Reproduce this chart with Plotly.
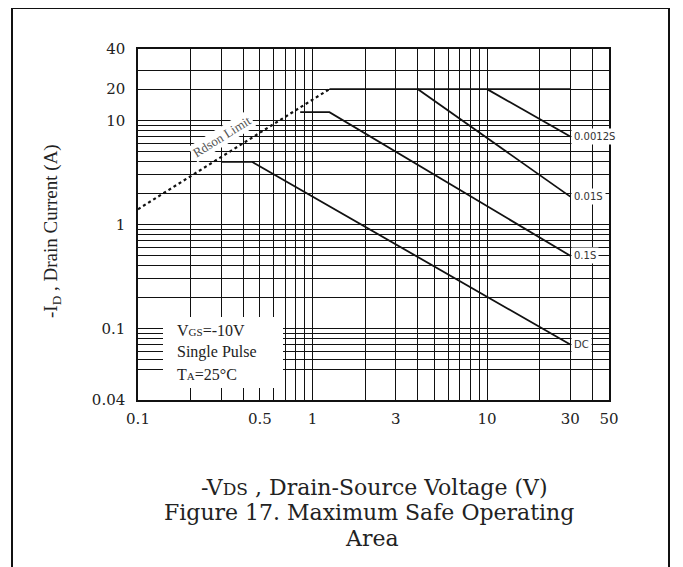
import math
import plotly.graph_objects as go

# ---------------- data ----------------
# axis extents of the printed chart (log axes)
X_EDGES = [0.1, 50]
Y_EDGES = [0.0205, 48.6]

# grid lines
X_GRID = [0.2, 0.3, 0.4, 0.5, 0.6, 0.7, 0.8, 0.9, 1, 2, 3, 4, 5, 6, 7, 8, 9, 10, 20, 30, 40]
Y_GRID = [0.04, 0.05, 0.06, 0.07, 0.08, 0.09, 0.1, 0.2, 0.3, 0.4, 0.5, 0.6, 0.7, 0.8, 0.9,
          1, 2, 3, 4, 5, 6, 7, 8, 9, 10, 20, 30]

# tick labels
X_TICKS = [0.1, 0.5, 1, 3, 10, 30, 50]
X_TICK_TEXT = ["0.1", "0.5", "1", "3", "10", "30", "50"]
Y_TICKS = [0.1, 1, 10, 20]
Y_TICK_TEXT = ["0.1", "1", "10", "20"]
Y_EDGE_LABELS = ["0.04", "40"]

# curves
rds_x = [0.1, 1.25]
rds_y = [1.4, 20]
idmax_x = [1.25, 30]
idmax_y = [20, 20]
p0012_x = [10, 30]
p0012_y = [20, 7]
p01_x = [4, 30]
p01_y = [20, 1.85]
p1_x = [0.85, 1.25, 30]
p1_y = [12, 12, 0.5]
dc_x = [0.3, 0.45, 30]
dc_y = [4, 4, 0.07]

curve_labels = ["0.0012S", "0.01S", "0.1S", "DC"]
curve_label_y = [p0012_y[-1], p01_y[-1], p1_y[-1], dc_y[-1]]
curve_label_x = 30

# ---------------- figure ----------------
W, H = 683, 567
OFF = 8  # page body margin of the browser
# plot area in page pixels: left 138, right 609, top 49, bottom 400
L = 138 - OFF
T = 49 - OFF
R = W - (609 - OFF)
B = H - (400 - OFF)

fig = go.Figure()
line_style = dict(color="#111111", width=1.8)
for xs, ys in [(idmax_x, idmax_y), (p0012_x, p0012_y), (p01_x, p01_y), (p1_x, p1_y), (dc_x, dc_y)]:
    fig.add_trace(go.Scatter(x=xs, y=ys, mode="lines", line=line_style, showlegend=False, hoverinfo="skip"))
fig.add_trace(go.Scatter(x=rds_x, y=rds_y, mode="lines", line=dict(color="#111111", width=2.2, dash="dot"),
                         showlegend=False, hoverinfo="skip"))

tickfont = dict(family="DejaVu Serif", size=15, color="#222222")
grid = dict(showgrid=True, gridcolor="#111111", gridwidth=1, zeroline=False,
            showline=True, linecolor="#111111", linewidth=1.5, mirror=True, ticks="")

fig.update_xaxes(type="log", range=[math.log10(X_EDGES[0]), math.log10(X_EDGES[1])],
                 tickmode="array", tickvals=X_TICKS, ticktext=X_TICK_TEXT,
                 minor=dict(tickmode="array", tickvals=X_GRID, showgrid=True,
                            gridcolor="#111111", gridwidth=1, ticks=""),
                 tickfont=tickfont, ticklabelstandoff=4, **grid)
fig.update_yaxes(type="log", range=[math.log10(Y_EDGES[0]), math.log10(Y_EDGES[1])],
                 tickmode="array", tickvals=[Y_EDGES[0]] + Y_TICKS + [Y_EDGES[1]],
                 ticktext=[Y_EDGE_LABELS[0]] + Y_TICK_TEXT + [Y_EDGE_LABELS[1]],
                 minor=dict(tickmode="array", tickvals=Y_GRID, showgrid=True,
                            gridcolor="#111111", gridwidth=1, ticks=""),
                 tickfont=tickfont, ticklabelstandoff=8, **grid)

PW = W - L - R
PH = H - T - B

def px_x(px):
    return (px - OFF - L) / PW

def px_y(py):
    return (H - B - (py - OFF)) / PH

shapes = [
    # white conditions box over the grid
    dict(type="rect", xref="x domain", yref="y domain", x0=px_x(163), x1=px_x(283),
         y0=px_y(388), y1=px_y(317), fillcolor="white", line=dict(width=0), layer="above"),
    # outer frame of the figure
    dict(type="rect", xref="paper", yref="paper", x0=px_x(12), x1=px_x(669),
         y0=px_y(590), y1=px_y(8), fillcolor="rgba(0,0,0,0)", line=dict(color="#111111", width=2),
         layer="above"),
]

serif = "Liberation Serif"
annotations = []
for lab, yv in zip(curve_labels, curve_label_y):
    annotations.append(dict(x=math.log10(curve_label_x), y=math.log10(yv), xref="x", yref="y",
                            text=lab, showarrow=False, xanchor="left", yanchor="middle", xshift=1,
                            font=dict(family="DejaVu Sans", size=10, color="#333333"),
                            bgcolor="white", borderpad=2))
annotations.append(dict(x=math.log10(0.303), y=math.log10(7.0), xref="x", yref="y",
                        text="Rdson Limit", showarrow=False, textangle=-32,
                        font=dict(family=serif, size=13, color="#555555"),
                        bgcolor="white", borderpad=1))
cond = ["V<span style='font-size:11px'>GS</span>=-10V", "Single Pulse",
        "T<span style='font-size:11px'>A</span>=25°C"]
for i, t in enumerate(cond):
    annotations.append(dict(x=px_x(175), y=px_y(330 + 22 * i), xref="paper", yref="paper",
                            text=t, showarrow=False, xanchor="left", yanchor="middle",
                            font=dict(family=serif, size=16, color="#222222")))
annotations.append(dict(x=px_x(38), y=px_y(231), xref="paper", yref="paper",
                        text="-I<sub>D</sub> , Drain Current (A)", textangle=-90, showarrow=False,
                        font=dict(family=serif, size=19, color="#222222")))
annotations.append(dict(x=px_x(374), y=px_y(487), xref="paper", yref="paper",
                        text="-V<span style='font-size:17px'>DS</span> , Drain-Source Voltage (V)",
                        showarrow=False, yanchor="middle",
                        font=dict(family="DejaVu Serif", size=22, color="#222222")))
annotations.append(dict(x=px_x(369), y=px_y(512), xref="paper", yref="paper",
                        text="Figure 17. Maximum Safe Operating", showarrow=False, yanchor="middle",
                        font=dict(family="DejaVu Serif", size=22, color="#222222")))
annotations.append(dict(x=px_x(372), y=px_y(538), xref="paper", yref="paper",
                        text="Area", showarrow=False, yanchor="middle",
                        font=dict(family="DejaVu Serif", size=22, color="#222222")))

fig.update_layout(width=W, height=H, margin=dict(l=L, r=R, t=T, b=B, autoexpand=False),
                  paper_bgcolor="white", plot_bgcolor="white",
                  shapes=shapes, annotations=annotations, showlegend=False)

fig.write_html("out.html")
